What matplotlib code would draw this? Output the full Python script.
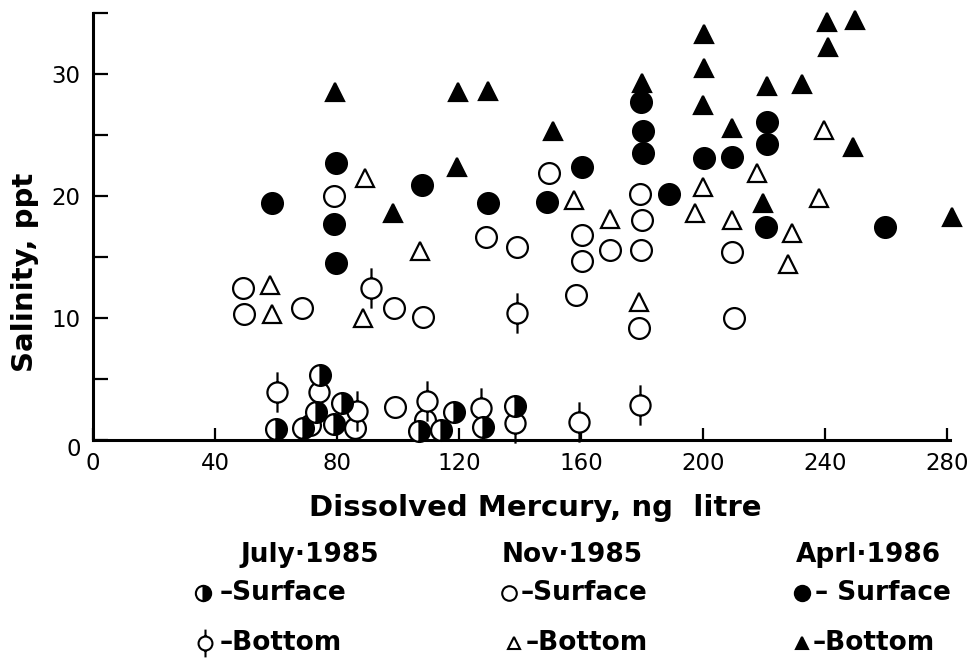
import matplotlib
matplotlib.use("Agg")
import matplotlib.pyplot as plt
from matplotlib.path import Path
from matplotlib.transforms import ScaledTranslation
import numpy as np

plt.rcParams['font.family'] = ['DejaVu Sans']

# ---------------- data (Dissolved Hg ng/l, Salinity ppt) ----------------
july_surface_x = [60, 69, 74.5, 73, 81.5, 79, 107, 114, 118.5, 128, 138.5]
july_surface_y = [0.9, 1.0, 5.3, 2.3, 3.0, 1.3, 0.7, 0.8, 2.3, 1.1, 2.8]

july_bottom_x = [60.3, 91, 74, 86.5, 109.5, 127.2, 139, 159.3, 179.3, 138.5]
july_bottom_y = [3.9, 12.5, 3.9, 2.4, 3.2, 2.6, 10.4, 1.5, 2.9, 1.4]

nov_surface_x = [49.2, 49.5, 68.5, 79, 98.7, 108.2, 128.9, 139, 149.5, 158.4,
                 160.3, 160.3, 169.5, 179.3, 180, 179.7, 179, 209.5, 210.2,
                 99, 108.9, 86, 71]
nov_surface_y = [12.5, 10.3, 10.8, 20.0, 10.8, 10.1, 16.6, 15.8, 21.9, 11.9,
                 16.8, 14.7, 15.6, 20.2, 18.0, 15.6, 9.2, 15.4, 10.0,
                 2.7, 1.6, 1.0, 1.2]

nov_bottom_x = [58, 58.7, 88.5, 89.2, 107.2, 157.7, 169.5, 179, 197.4, 200,
                209.5, 217.7, 229.2, 227.9, 238, 239.7]
nov_bottom_y = [12.7, 10.3, 10.0, 21.5, 15.5, 19.7, 18.1, 11.3, 18.6, 20.7,
                18.0, 21.9, 17.0, 14.4, 19.8, 25.4]

apr_surface_x = [58.7, 79.7, 79, 79.7, 108, 129.5, 148.8, 160.3, 179.7, 180.3,
                 180.3, 188.9, 200.3, 209.5, 221, 221, 220.7, 259.7]
apr_surface_y = [19.4, 22.7, 17.7, 14.5, 20.9, 19.4, 19.5, 22.4, 27.7, 25.3,
                 23.5, 20.2, 23.1, 23.2, 26.1, 24.3, 17.5, 17.5]

apr_bottom_x = [79.3, 98.4, 119.3, 119.7, 129.5, 150.8, 180, 200.3, 200.3, 200,
                209.5, 221, 219.7, 232.5, 240.7, 241, 249.8, 249.2, 281.6]
apr_bottom_y = [28.5, 18.6, 22.4, 28.5, 28.6, 25.3, 29.3, 33.3, 30.5, 27.5,
                25.6, 29.0, 19.4, 29.2, 34.3, 32.2, 34.4, 24.0, 18.3]

x_ticks = [0, 40, 80, 120, 160, 200, 240, 280]
y_ticks = [0, 5, 10, 15, 20, 25, 30, 35]
y_ticklabels = ['0', '', '10', '', '20', '', '30', '']

legend_titles = ['July·1985', 'Nov·1985', 'Aprl·1986']

# ---------------- custom marker: circle with vertical stem ----------------
circ = Path.unit_circle()
stems = Path([(0, 1), (0, 2), (0, -1), (0, -2)],
             [Path.MOVETO, Path.LINETO, Path.MOVETO, Path.LINETO])
stem_marker = Path.make_compound_path(circ, stems)

W, H = 978, 667
fig = plt.figure(figsize=(W / 100, H / 100), dpi=100)
x0, x1 = 93, 950
y0, y1 = 440, 13
ax = fig.add_axes([x0 / W, 1 - y0 / H, (x1 - x0) / W, (y0 - y1) / H])
ax.set_xlim(0, 281)
ax.set_ylim(0, 35)

mew = 1.6
kw = dict(ls='none', mec='black', mew=mew, clip_on=False)
ax.plot(nov_surface_x, nov_surface_y, marker='o', ms=15, mfc='white', zorder=3, **kw)
ax.plot(nov_bottom_x, nov_bottom_y, marker='^', ms=12.5, mfc='white', zorder=3, **kw)
ax.plot(apr_surface_x, apr_surface_y, marker='o', ms=15, mfc='black', zorder=3, **kw)
ax.plot(apr_bottom_x, apr_bottom_y, marker='^', ms=12.5, mfc='black', zorder=3, **kw)
ax.plot(july_bottom_x, july_bottom_y, marker=stem_marker, ms=29, mfc='white', zorder=4, **kw)
ax.plot(july_surface_x, july_surface_y, marker='o', ms=15, fillstyle='right', mfc='black',
        mfcalt='white', zorder=5, **kw)

for s in ['top', 'right']:
    ax.spines[s].set_visible(False)
for s in ['left', 'bottom']:
    ax.spines[s].set_linewidth(2.2)

ax.set_xticks(x_ticks)
ax.set_xticklabels([str(v) for v in x_ticks])
ax.set_yticks(y_ticks)
ax.set_yticklabels(y_ticklabels)
ax.tick_params(axis='x', direction='in', length=9, width=1.6, pad=9, labelsize=16.5)
ax.tick_params(axis='y', direction='in', length=11, width=1.6, pad=9, labelsize=16.5)
# origin "0" on the y axis sits a little low in the reference
ylab0 = ax.get_yticklabels()[0]
ylab0.set_transform(ylab0.get_transform() + ScaledTranslation(0, -7 / 100, fig.dpi_scale_trans))

fig.text(535 / W, 1 - 508 / H, 'Dissolved Mercury, ng  litre', ha='center', va='center',
         fontsize=21, fontweight='bold')
fig.text(25 / W, 1 - 272 / H, 'Salinity, ppt', ha='center', va='center', rotation=90,
         fontsize=21, fontweight='bold')

# ---------------- legend block ----------------
lax = fig.add_axes([0, 0, 1, 1])
lax.set_xlim(0, W)
lax.set_ylim(H, 0)
lax.axis('off')

title_x = [310, 572, 868]
for tx, t in zip(title_x, legend_titles):
    lax.text(tx, 555, t, ha='center', va='center', fontsize=19, fontweight='bold')

ry1, ry2 = 593, 643
lax.plot([203], [ry1], 'o', ms=11, fillstyle='right', mfc='black', mfcalt='white', mec='black', mew=1.5)
lax.text(220, ry1, '–Surface', ha='left', va='center', fontsize=19, fontweight='bold')
lax.plot([509], [ry1], 'o', ms=10.5, mfc='white', mec='black', mew=1.5)
lax.text(521, ry1, '–Surface', ha='left', va='center', fontsize=19, fontweight='bold')
lax.plot([802], [ry1], 'o', ms=11, mfc='black', mec='black', mew=1.5)
lax.text(815, ry1, '– Surface', ha='left', va='center', fontsize=19, fontweight='bold')

lax.plot([205], [ry2], ls='none', marker=stem_marker, ms=20, mfc='white', mec='black', mew=1.5)
lax.text(220, ry2, '–Bottom', ha='left', va='center', fontsize=19, fontweight='bold')
lax.plot([514], [ry2], '^', ms=9, mfc='white', mec='black', mew=1.5)
lax.text(526, ry2, '–Bottom', ha='left', va='center', fontsize=19, fontweight='bold')
lax.plot([802], [ry2], '^', ms=9, mfc='black', mec='black', mew=1.5)
lax.text(813, ry2, '–Bottom', ha='left', va='center', fontsize=19, fontweight='bold')

fig.savefig('out.png', dpi=100)
